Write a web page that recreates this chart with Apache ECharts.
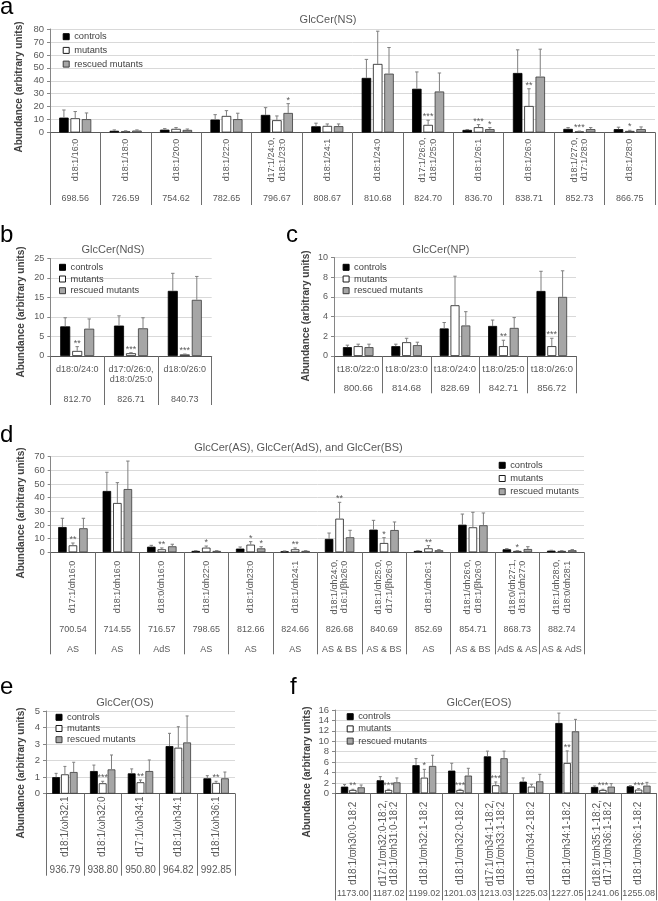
<!DOCTYPE html>
<html><head><meta charset="utf-8">
<script src="https://cdn.jsdelivr.net/npm/echarts@6/dist/echarts.min.js"></script>
<style>html,body{margin:0;padding:0;background:#fff}#c{width:658px;height:901px}</style>
</head><body><div id="c"></div>
<script>
// ---------- DATA ----------
const seriesNames = ['controls', 'mutants', 'rescued mutants'];

// a: GlcCer(NS)
const nsCats = ['d18:1/16:0','d18:1/18:0','d18:1/20:0','d18:1/22:0','d17:1/24:0,\nd18:1/23:0','d18:1/24:1','d18:1/24:0','d17:1/26:0,\nd18:1/25:0','d18:1/26:1','d18:1/26:0','d18:1/27:0,\nd17:1/28:0','d18:1/28:0'];
const nsMass = ['698.56','726.59','754.62','782.65','796.67','808.67','810.68','824.70','836.70','838.71','852.73','866.75'];
const nsCtrl   = [11.5, 1.3, 2.2, 10.0, 13.6, 4.8, 42.2, 33.8, 2.0, 46.0, 2.8, 2.6];
const nsCtrlSD = [5.9, 0.7, 0.8, 3.8, 5.6, 2.4, 14.3, 13.0, 0.3, 17.9, 1.0, 1.5];
const nsMut    = [11.0, 0.9, 2.8, 12.8, 9.5, 5.1, 53.0, 5.9, 4.1, 20.5, 0.8, 1.2];
const nsMutSD  = [5.2, 0.4, 1.0, 4.1, 3.3, 1.5, 25.3, 3.6, 2.0, 13.3, 0.3, 0.5];
const nsRes    = [10.3, 1.5, 2.0, 10.3, 15.1, 4.9, 45.5, 31.7, 2.6, 43.2, 2.6, 2.6];
const nsResSD  = [4.8, 0.5, 0.7, 4.6, 7.2, 1.7, 20.2, 14.3, 1.2, 21.2, 1.2, 1.7];
const nsMutSig = ['','','','','','','','***','***','**','***','*'];
const nsResSig = ['','','','','*','','','','*','','',''];

// b: GlcCer(NdS)
const ndsCats = ['d18:0/24:0','d17:0/26:0,\nd18:0/25:0','d18:0/26:0'];
const ndsMass = ['812.70','826.71','840.73'];
const ndsCtrl   = [7.6, 7.8, 16.7];
const ndsCtrlSD = [2.2, 2.5, 4.5];
const ndsMut    = [1.3, 0.7, 0.4];
const ndsMutSD  = [1.1, 0.15, 0.1];
const ndsRes    = [7.0, 7.1, 14.4];
const ndsResSD  = [2.5, 2.7, 6.0];
const ndsMutSig = ['**','***','***'];
const ndsResSig = ['','',''];

// c: GlcCer(NP)
const npCats = ['t18:0/22:0','t18:0/23:0','t18:0/24:0','t18:0/25:0','t18:0/26:0'];
const npMass = ['800.66','814.68','828.69','842.71','856.72'];
const npCtrl   = [0.9, 1.0, 2.8, 3.05, 6.6];
const npCtrlSD = [0.2, 0.2, 0.6, 0.6, 2.0];
const npMut    = [1.0, 1.4, 5.15, 1.0, 1.0];
const npMutSD  = [0.2, 0.4, 2.95, 0.6, 0.8];
const npRes    = [0.9, 1.1, 3.1, 2.85, 6.0];
const npResSD  = [0.3, 0.3, 1.4, 1.05, 2.65];
const npMutSig = ['','','','**','***'];
const npResSig = ['','','','',''];

// d: GlcCer(AS), GlcCer(AdS), and GlcCer(BS)
const asCats = ['d17:1/αh16:0','d18:1/αh16:0','d18:0/αh16:0','d18:1/αh22:0','d18:1/αh23:0','d18:1/αh24:1','d18:1/αh24:0,\nd16:1/βh26:0','d18:1/αh25:0,\nd17:1/βh26:0','d18:1/αh26:1','d18:1/αh26:0,\nd18:1/βh26:0','d18:0/αh27:1,\nd18:1/αh27:0','d18:1/αh28:0,\nd18:0/αh28:1'];
const asMass = ['700.54','714.55','716.57','798.65','812.66','824.66','826.68','840.69','852.69','854.71','868.73','882.74'];
const asType = ['AS','AS','AdS','AS','AS','AS','AS & BS','AS & BS','AS','AS & BS','AdS & AS','AS & AdS'];
const asCtrl   = [18.5, 44.9, 4.1, 1.0, 2.7, 0.7, 9.8, 16.6, 1.0, 20.2, 2.2, 1.2];
const asCtrlSD = [6.4, 13.7, 1.0, 0.2, 1.2, 0.3, 4.3, 6.8, 0.2, 7.8, 0.5, 0.3];
const asMut    = [5.1, 36.1, 2.2, 3.4, 5.6, 2.2, 24.6, 6.8, 2.9, 18.3, 1.0, 1.0];
const asMutSD  = [1.7, 14.9, 1.0, 1.2, 2.2, 1.0, 12.0, 3.9, 2.0, 11.0, 0.2, 0.2];
const asRes    = [17.6, 46.3, 4.4, 1.0, 2.9, 1.0, 11.0, 16.3, 1.5, 19.8, 2.4, 1.5];
const asResSD  = [7.3, 20.5, 1.5, 0.2, 1.2, 0.2, 5.1, 5.9, 0.5, 9.0, 1.7, 0.5];
const asMutSig = ['**','','**','*','*','**','**','*','**','','*',''];
const asResSig = ['','','','','*','','','','','','',''];

// e: GlcCer(OS)
const osCats = ['d18:1/ωh32:1','d18:1/ωh32:0','d17:1/ωh34:1','d18:1/ωh34:1','d18:1/ωh36:1'];
const osMass = ['936.79','938.80','950.80','964.82','992.85'];
const osCtrl   = [1.0, 1.37, 1.23, 2.88, 0.93];
const osCtrlSD = [0.23, 0.36, 0.27, 0.77, 0.16];
const osMut    = [1.17, 0.63, 0.69, 2.78, 0.65];
const osMutSD  = [0.48, 0.12, 0.14, 1.27, 0.1];
const osRes    = [1.31, 1.47, 1.37, 3.1, 0.93];
const osResSD  = [0.59, 0.87, 0.67, 1.6, 0.38];
const osMutSig = ['','***','**','','**'];
const osResSig = ['','','','',''];

// f: GlcCer(EOS)
const eosCats = ['d18:1/ϖh30:0-18:2','d17:1/ϖh32:0-18:2,\nd18:1/ϖh31:0-18:2','d18:1/ϖh32:1-18:2','d18:1/ϖh32:0-18:2','d17:1/ϖh34:1-18:2,\nd18:1/ϖh33:1-18:2','d18:1/ϖh34:2-18:2','d18:1/ϖh34:1-18:2','d18:1/ϖh35:1-18:2,\nd17:1/ϖh36:1-18:2','d18:1/ϖh36:1-18:2'];
const eosMass = ['1173.00','1187.02','1199.02','1201.03','1213.03','1225.03','1227.05','1241.06','1255.08'];
const eosCtrl   = [1.28, 2.5, 5.4, 4.36, 7.1, 2.24, 13.5, 1.22, 1.35];
const eosCtrlSD = [0.39, 0.7, 1.27, 1.41, 1.0, 0.71, 1.9, 0.19, 0.12];
const eosMut    = [0.64, 0.64, 3.0, 0.64, 1.54, 1.28, 5.83, 0.64, 0.7];
const eosMutSD  = [0.13, 0.13, 1.6, 0.13, 0.64, 0.45, 2.31, 0.13, 0.2];
const eosRes    = [1.15, 2.1, 5.25, 3.4, 6.73, 2.3, 11.9, 1.28, 1.47];
const eosResSD  = [0.45, 0.85, 2.05, 1.4, 1.37, 1.35, 2.3, 0.58, 0.63];
const eosMutSig = ['**','***','*','***','***','','**','***','***'];
const eosResSig = ['','','','','','','','',''];

// axis ranges
const yAxesRange = { a:[0,80,10], b:[0,25,5], c:[0,10,2], d:[0,70,10], e:[0,5,1], f:[0,16,2] };
const titles = { a:'GlcCer(NS)', b:'GlcCer(NdS)', c:'GlcCer(NP)', d:'GlcCer(AS), GlcCer(AdS), and GlcCer(BS)', e:'GlcCer(OS)', f:'GlcCer(EOS)' };
const yName = 'Abundance (arbitrary units)';

// ---------- LAYOUT / STYLE ----------
const FONT = 'Liberation Sans';
const GRAY = '#595959';
const panels = [
  { key:'a', cats:nsCats, mass:nsMass, type:null, vals:[nsCtrl,nsMut,nsRes], sds:[nsCtrlSD,nsMutSD,nsResSD], sigs:[[],nsMutSig,nsResSig],
    grid:{left:50, top:29, width:605, height:103.5}, rot:true, labFont:9, massFont:9, labMargin:27.5, massMargin:66.5, tickLen:72.5,
    bw:9.5, gapPct:'19%', pitch:11.3, cap:1.7, tickFont:9.5,
    legend:{left:62.7, top:31.7, gap:3.7}, title:[328,20], yname:[19,87], letter:[0,7] },
  { key:'b', cats:ndsCats, mass:ndsMass, type:null, vals:[ndsCtrl,ndsMut,ndsRes], sds:[ndsCtrlSD,ndsMutSD,ndsResSD], sigs:[[],ndsMutSig,ndsResSig],
    grid:{left:50.3, top:258.5, width:161.4, height:97.5}, rot:false, labFont:9, massFont:9, labMargin:8, massMargin:43.3, tickLen:49,
    bw:10, gapPct:'20%', pitch:12, cap:1.7, tickFont:9,
    legend:{left:59, top:262.3, gap:1.7}, title:[113,250], yname:[21,312], letter:[0,235] },
  { key:'c', cats:npCats, mass:npMass, type:null, vals:[npCtrl,npMut,npRes], sds:[npCtrlSD,npMutSD,npResSD], sigs:[[],npMutSig,npResSig],
    grid:{left:334, top:257.5, width:242, height:98.5}, rot:false, labFont:9.5, massFont:9.5, labMargin:8, massMargin:32, tickLen:37.3,
    bw:9, gapPct:'20%', pitch:10.8, cap:1.7, tickFont:9,
    legend:{left:342.6, top:262.3, gap:1.7}, title:[441,250], yname:[306,316], letter:[286,235] },
  { key:'d', cats:asCats, mass:asMass, type:asType, vals:[asCtrl,asMut,asRes], sds:[asCtrlSD,asMutSD,asResSD], sigs:[[],asMutSig,asResSig],
    grid:{left:50.7, top:456.7, width:533.3, height:95.6}, rot:true, labFont:9, massFont:9, labMargin:34.7, massMargin:77.7, typeMargin:97, tickLen:102,
    bw:8.5, gapPct:'23.5%', pitch:10.5, cap:1.7, tickFont:9.5,
    legend:{left:498.7, top:460.3, gap:3.2}, title:[298.5,448], yname:[21,513], letter:[0,435] },
  { key:'e', cats:osCats, mass:osMass, type:null, vals:[osCtrl,osMut,osRes], sds:[osCtrlSD,osMutSD,osResSD], sigs:[[],osMutSig,osResSig],
    grid:{left:46, top:711, width:189, height:82.7}, rot:true, labFont:10, massFont:10, labMargin:33, massMargin:76.3, tickLen:82,
    bw:7.8, gapPct:'13%', pitch:8.8, cap:1.5, tickFont:9.5,
    legend:{left:55.5, top:712.3, gap:1.2}, title:[125,703], yname:[21,773], letter:[0,687] },
  { key:'f', cats:eosCats, mass:eosMass, type:null, vals:[eosCtrl,eosMut,eosRes], sds:[eosCtrlSD,eosMutSD,eosResSD], sigs:[[],eosMutSig,eosResSig],
    grid:{left:335, top:710, width:321.5, height:83.3}, rot:true, labFont:10, massFont:9, labMargin:50, massMargin:100, tickLen:107,
    bw:7.3, gapPct:'13.7%', pitch:8.3, cap:1.5, tickFont:9.5,
    legend:{left:346.7, top:711.7, gap:2.2}, title:[479,703], yname:[307,772], letter:[290,687] }
];

const barStyles = [
  {color:'#000000', borderColor:'#000000', borderWidth:0.8},
  {color:'#ffffff', borderColor:'#1a1a1a', borderWidth:0.8},
  {color:'#a6a6a6', borderColor:'#3a3a3a', borderWidth:0.8}
];

const option = { animation:false, backgroundColor:'#ffffff', grid:[], xAxis:[], yAxis:[], series:[], legend:[], graphic:[] };

panels.forEach((p, k) => {
  option.grid.push(Object.assign({outerBoundsMode:'none', containLabel:false}, p.grid));
  const r = yAxesRange[p.key];
  option.yAxis.push({ gridIndex:k, type:'value', min:r[0], max:r[1], interval:r[2],
    axisLine:{show:true, lineStyle:{color:'#868686', width:1}},
    axisTick:{show:true, length:3, lineStyle:{color:'#868686'}},
    axisLabel:{fontSize:p.tickFont, color:GRAY, margin:6, fontFamily:FONT},
    splitLine:{show:true, lineStyle:{color:'#d9d9d9', width:1}} });
  const mainX = option.xAxis.length;
  option.xAxis.push({ gridIndex:k, type:'category', data:p.cats, position:'bottom', boundaryGap:true,
    axisLine:{show:true, lineStyle:{color:'#595959', width:1}},
    axisTick:{show:true, interval:0, length:p.tickLen, lineStyle:{color:'#6e6e6e', width:1}},
    axisLabel:{interval:0, rotate:p.rot?90:0, align:'center', verticalAlign:p.rot?'middle':'top', margin:p.labMargin,
      fontSize:p.labFont, lineHeight:p.labFont+1.5, color:GRAY, fontFamily:FONT},
    splitLine:{show:false} });
  option.xAxis.push({ gridIndex:k, type:'category', data:p.mass, position:'bottom', offset:0,
    axisLine:{show:false}, axisTick:{show:false}, splitLine:{show:false},
    axisLabel:{interval:0, margin:p.massMargin, verticalAlign:'middle', fontSize:p.massFont, color:GRAY, fontFamily:FONT} });
  if (p.type) {
    option.xAxis.push({ gridIndex:k, type:'category', data:p.type, position:'bottom', offset:0,
      axisLine:{show:false}, axisTick:{show:false}, splitLine:{show:false},
      axisLabel:{interval:0, margin:p.typeMargin, verticalAlign:'middle', fontSize:p.massFont, color:GRAY, fontFamily:FONT} });
  }
  for (let s = 0; s < 3; s++) {
    option.series.push({ type:'bar', name:seriesNames[s], xAxisIndex:mainX, yAxisIndex:k, data:p.vals[s],
      barWidth:p.bw, barGap:p.gapPct, itemStyle:barStyles[s], silent:true, z:2 });
  }
  const items = [];
  for (let s = 0; s < 3; s++) for (let i = 0; i < p.cats.length; i++) {
    items.push([i, p.vals[s][i] + p.sds[s][i], s, p.vals[s][i]]);
  }
  option.series.push({ type:'custom', xAxisIndex:mainX, yAxisIndex:k, data:items, z:10, silent:true, clip:false,
    encode:{x:0, y:1},
    renderItem(params, api) {
      const i = api.value(0), top = api.value(1), s = api.value(2), base = api.value(3);
      const pb = api.coord([i, base]), pt = api.coord([i, top]);
      const x = pb[0] + (s - 1) * p.pitch;
      const ch = [
        {type:'line', shape:{x1:x, y1:pb[1], x2:x, y2:pt[1]}, style:{stroke:'#7f7f7f', lineWidth:1}},
        {type:'line', shape:{x1:x - p.cap, y1:pt[1], x2:x + p.cap, y2:pt[1]}, style:{stroke:'#7f7f7f', lineWidth:1}}
      ];
      const sig = p.sigs[s][i];
      if (sig) ch.push({type:'text', x:x, y:pt[1] + 1, style:{text:sig, fill:GRAY, fontSize:9, fontFamily:FONT, align:'center', verticalAlign:'bottom'}});
      return {type:'group', children:ch};
    } });
  option.legend.push({ orient:'vertical', left:p.legend.left, top:p.legend.top, padding:0, itemGap:p.legend.gap,
    itemWidth:6, itemHeight:6, icon:'rect', selectedMode:false,
    textStyle:{fontSize:9.3, color:'#404040', fontFamily:FONT, lineHeight:10},
    data:seriesNames.map((n, s) => ({name:n, itemStyle:Object.assign({}, barStyles[s], {borderWidth:1})})) });
  option.graphic.push({ type:'text', x:p.title[0], y:p.title[1], silent:true,
    style:{text:titles[p.key], fill:GRAY, fontSize:11, fontFamily:FONT, align:'center', verticalAlign:'middle'} });
  option.graphic.push({ type:'text', x:p.yname[0], y:p.yname[1], rotation:Math.PI/2, silent:true,
    style:{text:yName, fill:'#404040', fontSize:10, fontWeight:'bold', fontFamily:FONT, align:'center', verticalAlign:'middle'} });
  option.graphic.push({ type:'text', x:p.letter[0], y:p.letter[1], silent:true,
    style:{text:p.key, fill:'#000', fontSize:24, fontFamily:FONT, align:'left', verticalAlign:'middle'} });
});

const chart = echarts.init(document.getElementById('c'), null, {renderer:'canvas'});
chart.setOption(option);
</script>
</body></html>
